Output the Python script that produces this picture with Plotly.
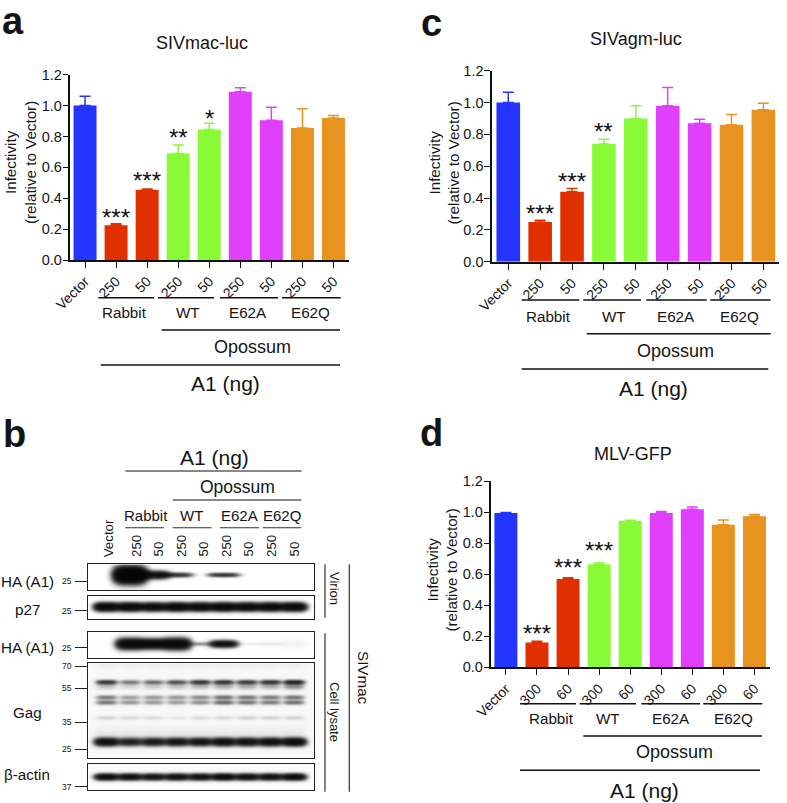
import numpy as np
import plotly.graph_objects as go

W, H = 787, 803
FONT = "Liberation Sans"
INK = "#141414"

# ---------- bar data ----------
labels_a = ["Vector", "250", "50", "250", "50", "250", "50", "250", "50"]
labels_d = ["Vector", "300", "60", "300", "60", "300", "60", "300", "60"]
mac_val = [1.0, 0.225, 0.455, 0.69, 0.845, 1.09, 0.905, 0.855, 0.92]
mac_err = [0.06, 0.01, 0.005, 0.055, 0.04, 0.025, 0.085, 0.125, 0.015]
agm_val = [1.0, 0.25, 0.44, 0.74, 0.90, 0.98, 0.87, 0.86, 0.955]
agm_err = [0.065, 0.01, 0.02, 0.03, 0.08, 0.115, 0.025, 0.065, 0.04]
mlv_val = [0.995, 0.16, 0.57, 0.665, 0.945, 0.995, 1.02, 0.92, 0.975]
mlv_err = [0.003, 0.008, 0.008, 0.008, 0.004, 0.01, 0.015, 0.03, 0.01]
colors = ["#2335FF", "#E03000", "#E03000", "#88FB36", "#88FB36",
          "#E040FB", "#E040FB", "#E89220", "#E89220"]
mac_stars = {1: ("***", 0.278), 2: ("***", 0.515), 3: ("**", 0.794), 4: ("*", 0.915)}
agm_stars = {1: ("***", 0.304), 2: ("***", 0.504), 3: ("**", 0.82)}
mlv_stars = {1: ("***", 0.217), 2: ("***", 0.643), 3: ("***", 0.754)}
y_ticks = [0.0, 0.2, 0.4, 0.6, 0.8, 1.0, 1.2]

# ---------- blot data: intensity per lane (Vector .. E62Q 50) ----------
virion_ha = [0, 7, 3.0, 1.6, 0, 1.6, 0, 0, 0]
virion_ha_h = [1, 7, 3.6, 2.2, 1, 2.0, 1, 1, 1]
virion_p27 = [4, 4, 3.6, 4, 3.8, 4, 3.8, 3.8, 4]
cell_ha = [0.01, 4, 4, 4, 0.5, 3, 0.07, 0.09, 0.05]
cell_ha_h = [3, 4.8, 4.4, 5, 2, 3.2, 1.2, 1.8, 4]
gag_60 = [1.5, 0.7, 0.8, 1.1, 1.5, 1.5, 1.4, 1.6, 1.9]
gag_58 = [0.25, 0.15, 0.2, 0.25, 0.3, 0.35, 0.35, 0.35, 0.55]
gag_50a = [0.7, 0.45, 0.5, 0.5, 0.6, 0.8, 0.75, 0.7, 0.75]
gag_50b = [0.75, 0.5, 0.5, 0.45, 0.55, 0.85, 0.75, 0.7, 0.8]
gag_40 = [0.16, 0.14, 0.13, 0.07, 0.12, 0.14, 0.17, 0.17, 0.17]
gag_25 = [3.2, 2.2, 2.5, 2.7, 2.8, 3.2, 3.0, 3.2, 3.6]
actin = [3.2, 3, 2.8, 3, 3, 3.4, 3, 3, 3.4]
lanes_b = ["Vector", "250", "50", "250", "50", "250", "50", "250", "50"]

fig = go.Figure()
# full-page helper axes: page furniture is placed on these in page pixels
PAGE_X, PAGE_Y = "x9", "y9"
fig.add_trace(go.Scatter(x=[0], y=[0], mode="none", xaxis=PAGE_X, yaxis=PAGE_Y,
                         showlegend=False, hoverinfo="skip"))


def px_x(x):
    return x / W


def px_y(y):
    return 1 - y / H


def text(x, y, s, size, anchor="center", vanchor="middle", angle=0, bold=False):
    fig.add_annotation(
        x=x, y=y, xref=PAGE_X, yref=PAGE_Y, text=f"<b>{s}</b>" if bold else s,
        showarrow=False, xanchor=anchor, yanchor=vanchor, textangle=angle,
        font=dict(family=FONT, size=size, color=INK), borderpad=0, borderwidth=0,
    )


def hline(x0, x1, y, w=1.4, color="#111111"):
    fig.add_shape(type="line", xref=PAGE_X, yref=PAGE_Y, x0=x0, x1=x1,
                  y0=y, y1=y, line=dict(color=color, width=w))


def vline(x, y0, y1, w=1.2, color="#333333"):
    fig.add_shape(type="line", xref=PAGE_X, yref=PAGE_Y, x0=x, x1=x,
                  y0=y0, y1=y1, line=dict(color=color, width=w))


def bar_panel(n, box, xrange_, vals, errs, labels, stars):
    x0, x1, ytop, ybot = box
    sfx = "" if n == 1 else str(n)
    for i, (v, e, c) in enumerate(zip(vals, errs, colors)):
        fig.add_trace(go.Bar(
            x=[i], y=[v], width=0.74, marker=dict(color=c, line=dict(width=0)),
            error_y=dict(type="data", array=[e], arrayminus=[0], symmetric=False,
                         color=c, thickness=1.5, width=5.5),
            xaxis="x" + sfx, yaxis="y" + sfx, showlegend=False, hoverinfo="skip",
        ))
    fig.update_layout(**{
        "xaxis" + sfx: dict(
            domain=[px_x(x0), px_x(x1)], range=xrange_, anchor="y" + sfx,
            tickmode="array", tickvals=list(range(9)), ticktext=labels, tickangle=-45,
            ticks="outside", ticklen=6, tickwidth=1.4, tickcolor="#111", showline=True,
            linecolor="#111", linewidth=1.6, showgrid=False, zeroline=False,
            tickfont=dict(family=FONT, size=14, color=INK), fixedrange=True),
        "yaxis" + sfx: dict(
            domain=[px_y(ybot), px_y(ytop)], range=[0, 1.2], anchor="x" + sfx,
            tickmode="array", tickvals=y_ticks, ticktext=[f"{t:.1f}" for t in y_ticks],
            ticks="outside", ticklen=5.5, tickwidth=1.4, tickcolor="#111", showline=True,
            linecolor="#111", linewidth=1.6, showgrid=False, zeroline=False,
            ticklabelstandoff=-2,
            tickfont=dict(family=FONT, size=14.5, color=INK), fixedrange=True),
    })
    for i, (s, y) in stars.items():
        fig.add_annotation(x=i, y=y, xref="x" + sfx, yref="y" + sfx,
                           text=s, showarrow=False, yanchor="middle",
                           font=dict(family=FONT, size=24, color="#111"))


bar_panel(1, (70, 349, 74.7, 260), [-0.484, 8.5], mac_val, mac_err, labels_a, mac_stars)
bar_panel(2, (491.7, 779, 70.7, 261.7), [-0.52, 8.49], agm_val, agm_err, labels_a, agm_stars)
bar_panel(3, (491, 770, 71.3 + 410, 667.3), [-0.48, 8.5], mlv_val, mlv_err, labels_d, mlv_stars)


def annotations_bars(title, tx, ty, ylabx, ylaby, brackets, names, name_y, opo, opo_txt, a1, a1_txt):
    text(tx, ty, title, 18)
    text(ylabx, ylaby, "Infectivity<br>(relative to Vector)", 15.2, angle=-90)
    by, spans = brackets
    for (a, b) in spans:
        hline(a, b, by)
    for (nx, s) in zip(name_y[1], names):
        text(nx, name_y[0], s, 15.2)
    hline(opo[0], opo[1], opo[2])
    text(opo_txt[0], opo_txt[1], "Opossum", 18)
    hline(a1[0], a1[1], a1[2])
    text(a1_txt[0], a1_txt[1], "A1 (ng)", 21)


groups = ["Rabbit", "WT", "E62A", "E62Q"]
annotations_bars("SIVmac-luc", 202, 43.3, 20, 163,
                 (297.7, [(98.3, 154.3), (158, 214), (220, 278), (282, 340.7)]), groups,
                 (312.7, [124, 187.7, 248, 310.7]), (161.7, 340, 330), (252, 346.7),
                 (100.7, 340, 365), (225, 383))
annotations_bars("SIVagm-luc", 636, 39, 443.5, 163,
                 (300, [(521.7, 579.3), (583.3, 641), (646.3, 706.7), (710.3, 770.7)]), groups,
                 (316, [548.3, 613.7, 675.7, 739.3]), (586.7, 770.7, 333.7), (675.3, 350.7),
                 (521.7, 768.3, 369), (653.3, 388.3))
annotations_bars("MLV-GFP", 632.7, 454, 441.5, 570,
                 (703.7, [(520, 576), (579.7, 636), (641.3, 700), (703.3, 762.3)]), groups,
                 (718.7, [551, 608.3, 671, 733.3]), (583.3, 762, 736), (674, 752.3),
                 (520, 760, 770.3), (644.3, 790))

for s, x, y in [("a", 12.7, 21), ("b", 14, 434), ("c", 21.7 + 410, 23), ("d", 21.7 + 410, 433)]:
    text(x, y, s, 38, bold=True)

# ---------- blot ----------
LANE0, LANE_DX = 107.0, 23.4
FX0, FX1 = 88.3, 314.0


def blot(n, ytop, ybot, bands, ticks, bg=0.0):
    """bands: (row, intensity-per-lane, half-height per lane or scalar, half-width)"""
    h = ybot - ytop
    xs = np.arange(FX0 + 0.5, FX1, 1.0)
    ys = np.arange(0.5, h, 1.0)
    XX, YY = np.meshgrid(xs, ys)
    dens = np.zeros_like(XX) + bg
    for row, inten, hh, hw in bands:
        hh = hh if isinstance(hh, list) else [hh] * 9
        for i in range(9):
            cx = LANE0 + LANE_DX * i
            dens += inten[i] * np.exp(-np.abs((XX - cx) / hw) ** 3.5) * np.exp(-((YY - row) / hh[i]) ** 2)
    z = 1 - np.exp(-dens)
    sx = str(n)
    fig.add_trace(go.Heatmap(
        x=xs, y=ys, z=z, zmin=0, zmax=1, showscale=False, hoverinfo="skip",
        colorscale=[[0, "#ffffff"], [1, "#050505"]], xaxis="x" + sx, yaxis="y" + sx,
    ))
    fig.update_layout(**{
        "xaxis" + sx: dict(domain=[px_x(FX0), px_x(FX1)], range=[FX0, FX1], anchor="y" + sx,
                           showticklabels=False, ticks="", showgrid=False, zeroline=False,
                           showline=True, mirror=True, linecolor="#222", linewidth=1.2,
                           fixedrange=True),
        "yaxis" + sx: dict(domain=[px_y(ybot), px_y(ytop)], range=[h, 0], anchor="x" + sx,
                           tickmode="array", tickvals=[t[0] for t in ticks],
                           ticktext=[t[1] for t in ticks], ticks="outside", ticklen=12,
                           tickwidth=1.1, tickcolor="#222", showgrid=False, zeroline=False,
                           showline=True, mirror=True, linecolor="#222", linewidth=1.2,
                           ticklabelstandoff=2,
                           tickfont=dict(family=FONT, size=8.5, color=INK), fixedrange=True),
    })


blot(4, 564.3, 590.3, [(11, virion_ha, virion_ha_h, 15)], [(16.7, "25")])
blot(5, 595.7, 618.7, [(11, virion_p27, 3.8, 12)], [(15, "25")])
blot(6, 632.3, 658.3, [(12, cell_ha, cell_ha_h, 13)], [(15.4, "25")], bg=0.004)
blot(7, 663.3, 757.7, [(19.3, gag_60, 2.2, 10), (23.5, gag_58, 3, 10),
                       (34.5, gag_50a, 2.2, 10), (39.5, gag_50b, 2.2, 10),
                       (55, gag_40, 2, 10), (79, gag_25, 3.6, 11.5),
                       (72, [0.06] * 9, 8, 12.5), (2, [0.05] * 9, 3, 11)],
     [(3, "70"), (25, "55"), (59, "35"), (86, "25")], bg=0.03)
blot(8, 763.7, 789.7, [(13, actin, 3, 11.5)], [(23, "37")], bg=0.015)

text(214, 457.7, "A1 (ng)", 21)
hline(125.3, 301.7, 471, 1.1)
text(237.3, 487.3, "Opossum", 17.5)
hline(172.7, 301.3, 500, 1.1)
for s, x in zip(groups, [145.7, 191, 239, 282.3]):
    text(x, 515, s, 15)
for a, b in [(125.3, 164), (172.7, 211.7), (220, 259), (262.7, 301.3)]:
    hline(a, b, 527.7, 1.1, "#333")
for s, x in zip(lanes_b, [108.3, 136, 158, 181, 203, 226, 248, 271, 294]):
    text(x, 557, s, 13.3, vanchor="bottom", angle=-90)

for s, y in [("HA (A1)", 581), ("p27", 609), ("HA (A1)", 647), ("Gag", 712), ("β-actin", 774)]:
    text(27, y, s, 15.2)

text(335, 588, "Virion", 13, angle=90)
text(335, 712, "Cell lysate", 13, angle=90)
text(364, 678, "SIVmac", 15.2, angle=90)
vline(325, 564.3, 617.7)
vline(325, 633.3, 791.7)
vline(349.3, 564.3, 791.7)

fig.update_layout(
    width=W, height=H, autosize=False,
    margin=dict(l=0, r=0, t=0, b=0, pad=0, autoexpand=False),
    paper_bgcolor="white", plot_bgcolor="rgba(0,0,0,0)", barmode="overlay", showlegend=False,
    font=dict(family=FONT, color=INK),
    xaxis9=dict(domain=[0, 1], range=[0, W], visible=False, fixedrange=True, anchor=PAGE_Y),
    yaxis9=dict(domain=[0, 1], range=[H, 0], visible=False, fixedrange=True, anchor=PAGE_X),
)
fig.write_html("out.html", config={"displayModeBar": False},
               post_script="document.body.style.margin='0';window.dispatchEvent(new Event('resize'));")
